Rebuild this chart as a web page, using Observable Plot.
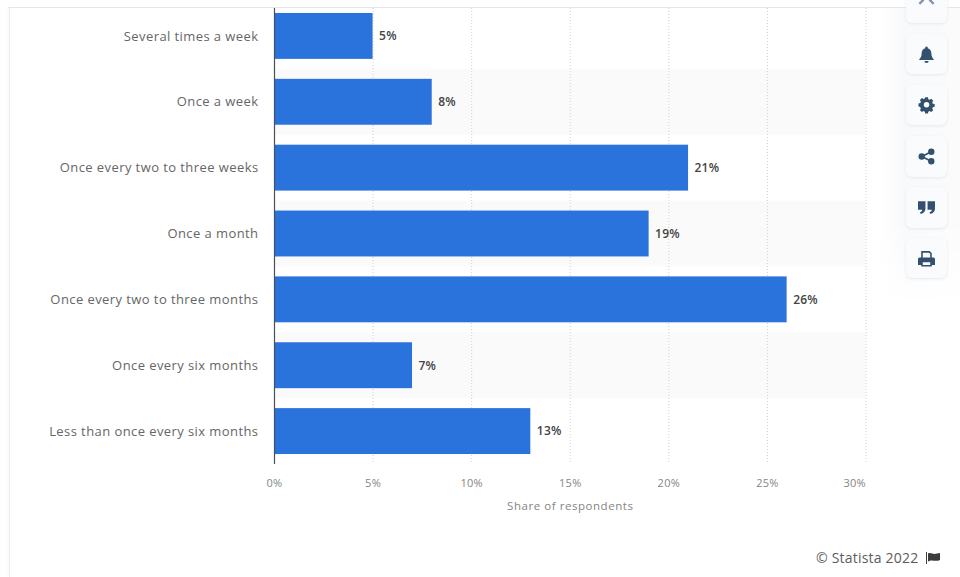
<!DOCTYPE html>
<html>
<head>
<meta charset="utf-8">
<script src="https://cdn.jsdelivr.net/npm/d3@7"></script>
<script src="https://cdn.jsdelivr.net/npm/@observablehq/plot@0.6"></script>
<style>
  html, body { margin: 0; padding: 0; background: #fff; }
  #page { position: relative; width: 960px; height: 577px; overflow: hidden; font-family: "Open Sans", sans-serif; }
  #chart { position: absolute; left: 0; top: 0; }
  #chart svg { background: transparent; display: block; }
  #chart g[aria-label="y-axis tick label"] { letter-spacing: 0.42px; }
  #chart g[aria-label="x-axis tick label"] { letter-spacing: 0.3px; }
  #chart g[aria-label="text"] { letter-spacing: 0.2px; }
  #chart g.axis-title { letter-spacing: 0.55px; }
  .frame-top { position: absolute; left: 8px; right: 0; top: 7px; height: 1px; background: #e6e6e6; }
  .frame-left { position: absolute; left: 9px; top: 7px; bottom: 0; width: 1px; background: #ececec; box-shadow: -2px 0 3px #f4f4f4; }
  .side-shade { position: absolute; left: 880px; top: 8px; width: 80px; height: 300px; background: linear-gradient(90deg, #fff, #f8f9fa 30%, #fbfbfc 90%); -webkit-mask-image: linear-gradient(#000 70%, transparent); }
  .card { position: absolute; left: 906px; width: 41px; background: #fafbfc; border-radius: 6px; box-shadow: 0 1px 3px #e6e8ec; display: flex; align-items: center; justify-content: center; }
  .card svg { width: 17px; height: 17px; fill: #34506f; }
  .credit { position: absolute; left: 816px; top: 549px; font-size: 14px; line-height: 18px; color: #5c5c5c; white-space: nowrap; letter-spacing: 0.2px; }
  .flag { position: absolute; left: 925px; top: 552px; width: 16px; height: 12px; fill: #3d3d3d; }
</style>
</head>
<body>
<div id="page">
  <div class="frame-top"></div>
  <div class="frame-left"></div>
  <div class="side-shade"></div>
  <div id="chart"></div>
  <div class="card" style="top:-6px;height:29px"><svg viewBox="0 0 16 16" style="position:absolute;left:12px;top:0;opacity:.6"><path d="M2 2l4 4-4 4-1.500-1.500L3 6 .5 3.500zM14 2l-4 4 4 4 1.500-1.500L13 6l2.500-2.500z"/></svg></div>
  <div class="card" style="top:34px;height:40px"><svg viewBox="0 0 16 16"><path d="M8 0.5a1.3 1.3 0 0 1 1.2 1.6C11.5 2.7 12.6 4.6 12.6 7c0 3 1 4.2 2.2 5.4v.8H1.2v-.8C2.4 11.2 3.4 10 3.4 7c0-2.4 1.1-4.3 3.4-4.9A1.3 1.3 0 0 1 8 .5zM6 14h4a2 2 0 0 1-4 0z"/></svg></div>
  <div class="card" style="top:85px;height:40px"><svg viewBox="0 0 16 16"><path fill-rule="evenodd" d="M6.6 1h2.8l.4 1.9 1.3.6 1.7-1 2 2-1 1.7.6 1.3 1.9.4v2.8l-1.9.4-.6 1.3 1 1.7-2 2-1.7-1-1.3.6-.4 1.9H6.6l-.4-1.9-1.3-.6-1.7 1-2-2 1-1.7-.6-1.3L-.3 10V7.2l1.9-.4.6-1.3-1-1.7 2-2 1.7 1 1.3-.6zM8 5.8a2.8 2.8 0 1 0 0 5.6 2.8 2.8 0 0 0 0-5.6z" transform="translate(.7 -.6) scale(.92)"/></svg></div>
  <div class="card" style="top:136px;height:41px"><svg viewBox="0 0 16 16"><circle cx="3.5" cy="8" r="3"/><circle cx="12.5" cy="3.5" r="3"/><circle cx="12.5" cy="12.5" r="3"/><path d="M3.5 8l9-4.5M3.5 8l9 4.5" stroke="#34506f" stroke-width="1.6"/></svg></div>
  <div class="card" style="top:187px;height:41px"><svg viewBox="0 0 16 16"><path d="M0 2h7v7c0 2.5-1.5 4.5-4.5 5l-.6-1.6C3.300 12 4 11 4 10H0zM9 2h7v7c0 2.500-1.500 4.500-4.500 5l-.6-1.600C12.300 12 13 11 13 10H9z"/></svg></div>
  <div class="card" style="top:238px;height:40px"><svg viewBox="0 0 16 16"><path fill-rule="evenodd" d="M3 1h8l2 2v4h1.500A1.500 1.500 0 0 1 16 8.500V14h-3v1.500H3V14H0V8.500A1.500 1.500 0 0 1 1.500 7H3zM4.500 2.500V7h7V3.600L10.400 2.500zM4.500 11.500v2.500h7v-2.500z"/></svg></div>
  <div class="credit">© Statista 2022</div>
  <svg class="flag" viewBox="0 0 16 12"><path d="M1 0h1v12H1zM3 1.500C6 0 8 3 12 1.500L15 1v7c-3 1.500-6 .5-8 .5-1.500 0-3 .5-4 1z"/></svg>
</div>
<script>
  // Reported frequency of the activity, share of respondents in percent
  const categories = [
    "Several times a week",
    "Once a week",
    "Once every two to three weeks",
    "Once a month",
    "Once every two to three months",
    "Once every six months",
    "Less than once every six months"
  ];
  const shares = [5, 8, 21, 19, 26, 7, 13];
  const stripedRows = ["Once a week", "Once a month", "Once every six months"];
  const inlineTicks = [0, 5, 10, 15, 20, 25];
  const lastTick = [30];
  const gridTicks = [5, 10, 15, 20, 25, 30];

  const rows = categories.map((category, i) => ({category, share: shares[i]}));
  const percent = d => `${d}%`;
  const axisFont = {fontSize: 11, fill: "#858585"};

  const chart = Plot.plot({
    width: 960,
    height: 577,
    marginTop: 8,
    marginBottom: 113,
    marginLeft: 274,
    marginRight: 94,
    style: {fontFamily: "'Open Sans', sans-serif", background: "transparent"},
    x: {domain: [0, 30], range: [274, 865.5]},
    y: {domain: categories, range: [3, 464], paddingInner: 0.303, paddingOuter: 0.1515, round: false},
    marks: [
      // Alternating row bands run the full width of the plot
      Plot.barX(stripedRows, {x1: 0, x2: 30, y: d => d, fill: "#fafafa", insetTop: -10, insetBottom: -10}),
      Plot.ruleX(gridTicks, {stroke: "#d0d0d0", strokeDasharray: "1,2"}),
      Plot.barX(rows, {x: "share", y: "category", fill: "#2a72dc"}),
      Plot.ruleX([0], {stroke: "#4a4f57", strokeWidth: 1.2}),
      Plot.axisY({
        tickSize: 0,
        tickPadding: 16,
        label: null,
        fontSize: 13,
        fill: "#666",
        marginLeft: 274
      }),
      Plot.axisX({ticks: inlineTicks, tickFormat: percent, tickSize: 0, tickPadding: 15, label: null, ...axisFont}),
      // The final tick label ends at the plot edge instead of being centred
      Plot.axisX({ticks: lastTick, tickFormat: percent, tickSize: 0, tickPadding: 15, label: null, textAnchor: "end", ...axisFont}),
      Plot.text(["Share of respondents"], {
        x: 15,
        frameAnchor: "bottom",
        dy: 45,
        text: d => d,
        ...axisFont,
        fontSize: 11.5,
        className: "axis-title"
      }),
      Plot.text(rows, {
        x: "share",
        y: "category",
        text: d => percent(d.share),
        textAnchor: "start",
        dx: 6,
        fontSize: 12,
        fontWeight: 600,
        fill: "#444"
      })
    ]
  });
  document.getElementById("chart").append(chart);
</script>
</body>
</html>
